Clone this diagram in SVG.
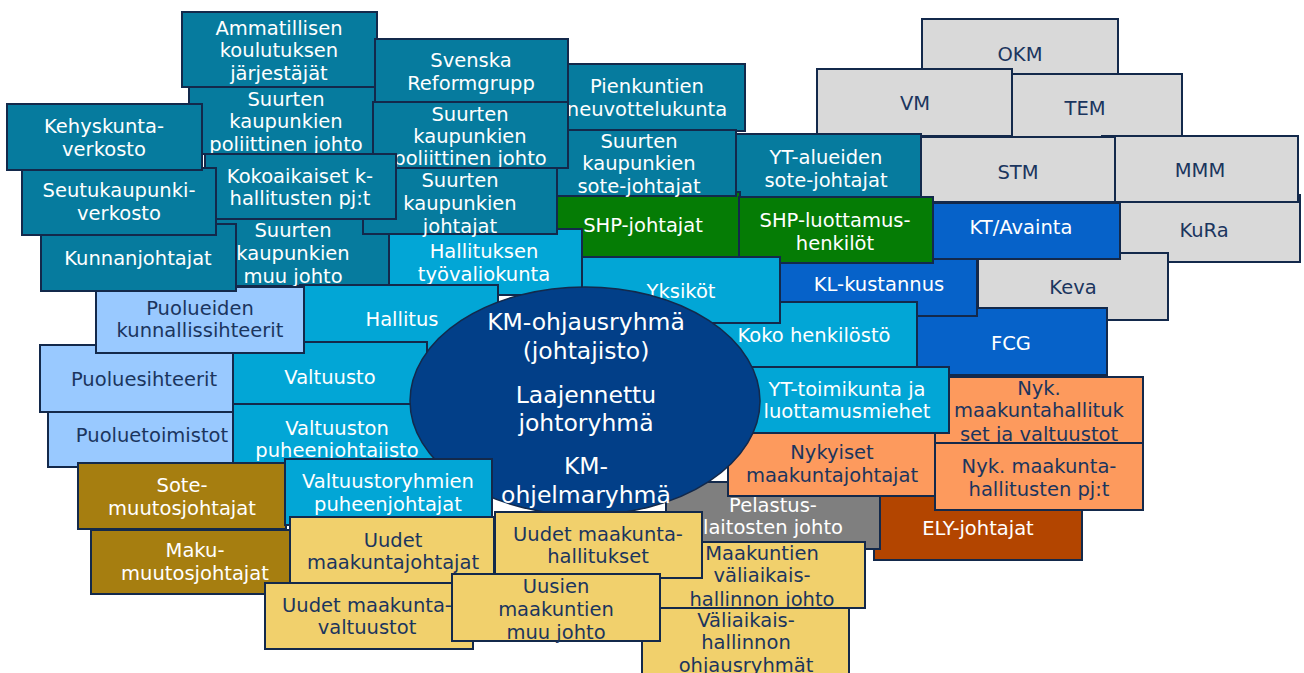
<svg xmlns="http://www.w3.org/2000/svg" width="1304" height="673" viewBox="0 0 1304 673">
<style>
.n rect{stroke:#13294b;stroke-width:2}
ellipse{stroke:#13294b;stroke-width:1.5}
text{font-family:"DejaVu Sans",Verdana,sans-serif;font-size:19.5px;text-anchor:middle}
.w text{fill:#ffffff}
.d text{fill:#1b355e}
.teal rect{fill:#067b9e}
.lb rect{fill:#02a6d6}
.pb rect{fill:#99c9ff}
.gold rect{fill:#a67e10}
.yel rect{fill:#f1d06c}
.org rect{fill:#fd9a5d}
.ely rect{fill:#b34500}
.gry rect{fill:#7f7f7f}
.lg rect{fill:#d9d9d9}
.blu rect{fill:#0662c9}
.grn rect{fill:#057c05}
.big text{font-size:23.5px}
</style>
<g id="nodes">
<g id="okm" class="n lg d"><rect x="922" y="19" width="196" height="68"/><text x="1020" y="61">OKM</text></g>
<g id="tem" class="n lg d"><rect x="988" y="74" width="194" height="66"/><text x="1085" y="115">TEM</text></g>
<g id="vm" class="n lg d"><rect x="817" y="69" width="195" height="67"/><text x="915" y="110">VM</text></g>
<g id="kura" class="n lg d"><rect x="1108" y="195" width="192" height="67"/><text x="1204" y="237">KuRa</text></g>
<g id="mmm" class="n lg d"><rect x="1102" y="136" width="196" height="66"/><text x="1200" y="177">MMM</text></g>
<g id="stm" class="n lg d"><rect x="920" y="137" width="195" height="65"/><text x="1018" y="179">STM</text></g>
<g id="keva" class="n lg d"><rect x="978" y="253" width="190" height="67"/><text x="1073" y="294">Keva</text></g>
<g id="fcg" class="n blu w"><rect x="913" y="308" width="194" height="67"/><text x="1011" y="350">FCG</text></g>
<g id="kl" class="n blu w"><rect x="780" y="256" width="197" height="60"/><text x="879" y="291">KL-kustannus</text></g>
<g id="kt" class="n blu w"><rect x="922" y="203" width="198" height="56"/><text x="1021" y="234">KT/Avainta</text></g>
<g id="yta" class="n teal w"><rect x="734" y="134" width="187" height="63"/><text x="826" y="164">YT-alueiden</text><text x="826" y="187">sote-johtajat</text></g>
<g id="pk" class="n teal w"><rect x="550" y="64" width="195" height="67"/><text x="647" y="93">Pienkuntien</text><text x="647" y="116">neuvottelukunta</text></g>
<g id="shpj" class="n grn w"><rect x="546" y="192" width="194" height="66"/><text x="643" y="232">SHP-johtajat</text></g>
<g id="sj" class="n teal w"><rect x="542" y="130" width="194" height="66"/><text x="639" y="148">Suurten</text><text x="639" y="170">kaupunkien</text><text x="639" y="193">sote-johtajat</text></g>
<g id="shpl" class="n grn w"><rect x="739" y="197" width="194" height="66"/><text x="835" y="227">SHP-luottamus-</text><text x="835" y="250">henkilöt</text></g>
<g id="amm" class="n teal w"><rect x="182" y="12" width="195" height="75"/><text x="279" y="35">Ammatillisen</text><text x="279" y="57">koulutuksen</text><text x="279" y="80">järjestäjät</text></g>
<g id="pol1" class="n teal w"><rect x="189" y="87" width="194" height="67"/><text x="286" y="106">Suurten</text><text x="286" y="128">kaupunkien</text><text x="286" y="151">poliittinen johto</text></g>
<g id="sv" class="n teal w"><rect x="375" y="39" width="193" height="63"/><text x="471" y="67">Svenska</text><text x="471" y="90">Reformgrupp</text></g>
<g id="pol2" class="n teal w"><rect x="373" y="102" width="195" height="66"/><text x="470" y="121">Suurten</text><text x="470" y="143">kaupunkien</text><text x="470" y="165">poliittinen johto</text></g>
<g id="tv" class="n lb w"><rect x="386" y="229" width="196" height="66"/><text x="484" y="258">Hallituksen</text><text x="484" y="281">työvaliokunta</text></g>
<g id="mj" class="n teal w"><rect x="197" y="219" width="192" height="67"/><text x="293" y="237">Suurten</text><text x="293" y="260">kaupunkien</text><text x="293" y="283">muu johto</text></g>
<g id="suj" class="n teal w"><rect x="363" y="168" width="194" height="66"/><text x="460" y="187">Suurten</text><text x="460" y="210">kaupunkien</text><text x="460" y="233">johtajat</text></g>
<g id="ko" class="n teal w"><rect x="205" y="154" width="191" height="65"/><text x="300" y="183">Kokoaikaiset k-</text><text x="300" y="205">hallitusten pj:t</text></g>
<g id="koko" class="n lb w"><rect x="712" y="302" width="205" height="65"/><text x="814" y="342">Koko henkilöstö</text></g>
<g id="yks" class="n lb w"><rect x="582" y="257" width="198" height="66"/><text x="681" y="298">Yksiköt</text></g>
<g id="ely" class="n ely w"><rect x="874" y="496" width="208" height="64"/><text x="978" y="535">ELY-johtajat</text></g>
<g id="nmh" class="n org d"><rect x="935" y="377" width="208" height="66"/><text x="1039" y="395">Nyk.</text><text x="1039" y="417">maakuntahallituk</text><text x="1039" y="441">set ja valtuustot</text></g>
<g id="npj" class="n org d"><rect x="935" y="443" width="208" height="67"/><text x="1039" y="473">Nyk. maakunta-</text><text x="1039" y="496">hallitusten pj:t</text></g>
<g id="pel" class="n gry w"><rect x="666" y="482" width="214" height="67"/><text x="773" y="512">Pelastus-</text><text x="773" y="534">laitosten johto</text></g>
<g id="nm" class="n org d"><rect x="728" y="430" width="207" height="66"/><text x="832" y="459">Nykyiset</text><text x="832" y="482">maakuntajohtajat</text></g>
<g id="ytt" class="n lb w"><rect x="745" y="367" width="204" height="66"/><text x="847" y="396">YT-toimikunta ja</text><text x="847" y="418">luottamusmiehet</text></g>
<g id="hall" class="n lb w"><rect x="300" y="285" width="198" height="67"/><text x="402" y="326">Hallitus</text></g>
<g id="ptoim" class="n pb d"><rect x="48" y="401" width="208" height="66"/><text x="152" y="442">Puoluetoimistot</text></g>
<g id="psiht" class="n pb d"><rect x="40" y="345" width="208" height="67"/><text x="144" y="386">Puoluesihteerit</text></g>
<g id="valt" class="n lb w"><rect x="233" y="342" width="194" height="66"/><text x="330" y="384">Valtuusto</text></g>
<g id="vpj" class="n lb w"><rect x="233" y="404" width="208" height="70"/><text x="337" y="435">Valtuuston</text><text x="337" y="457">puheenjohtajisto</text></g>
<g id="pks" class="n pb d"><rect x="96" y="287" width="208" height="66"/><text x="200" y="315">Puolueiden</text><text x="200" y="337">kunnallissihteerit</text></g>
<g id="kunn" class="n teal w"><rect x="41" y="224" width="195" height="67"/><text x="138" y="265">Kunnanjohtajat</text></g>
<g id="seutu" class="n teal w"><rect x="22" y="168" width="194" height="67"/><text x="119" y="197">Seutukaupunki-</text><text x="119" y="220">verkosto</text></g>
<g id="kehys" class="n teal w"><rect x="7" y="104" width="195" height="66"/><text x="104" y="133">Kehyskunta-</text><text x="104" y="156">verkosto</text></g>
<g id="sote" class="n gold w"><rect x="78" y="463" width="208" height="66"/><text x="182" y="492">Sote-</text><text x="182" y="515">muutosjohtajat</text></g>
<g id="km" class="w big"><ellipse cx="585" cy="401" rx="175" ry="114" fill="#023f88"/><text x="586" y="330">KM-ohjausryhmä</text><text x="586" y="359">(johtajisto)</text><text x="586" y="403">Laajennettu</text><text x="586" y="431">johtoryhmä</text><text x="586" y="474">KM-</text><text x="586" y="503">ohjelmaryhmä</text></g>
<g id="vrp" class="n lb w"><rect x="285" y="459" width="207" height="66"/><text x="388" y="488">Valtuustoryhmien</text><text x="388" y="511">puheenjohtajat</text></g>
<g id="maku" class="n gold w"><rect x="91" y="530" width="207" height="64"/><text x="195" y="557">Maku-</text><text x="195" y="580">muutosjohtajat</text></g>
<g id="umj" class="n yel d"><rect x="290" y="517" width="204" height="67"/><text x="393" y="547">Uudet</text><text x="393" y="569">maakuntajohtajat</text></g>
<g id="umv" class="n yel d"><rect x="265" y="583" width="208" height="66"/><text x="367" y="612">Uudet maakunta-</text><text x="367" y="634">valtuustot</text></g>
<g id="mv" class="n yel d"><rect x="660" y="542" width="205" height="66"/><text x="762" y="560">Maakuntien</text><text x="762" y="582">väliaikais-</text><text x="762" y="606">hallinnon johto</text></g>
<g id="vo" class="n yel d"><rect x="642" y="608" width="207" height="75"/><text x="746" y="627">Väliaikais-</text><text x="746" y="649">hallinnon</text><text x="746" y="672">ohjausryhmät</text></g>
<g id="umh" class="n yel d"><rect x="495" y="512" width="207" height="66"/><text x="598" y="541">Uudet maakunta-</text><text x="598" y="563">hallitukset</text></g>
<g id="umm" class="n yel d"><rect x="452" y="574" width="208" height="67"/><text x="556" y="593">Uusien</text><text x="556" y="616">maakuntien</text><text x="556" y="639">muu johto</text></g>
</g>
<g id="connectors"></g>
</svg>
